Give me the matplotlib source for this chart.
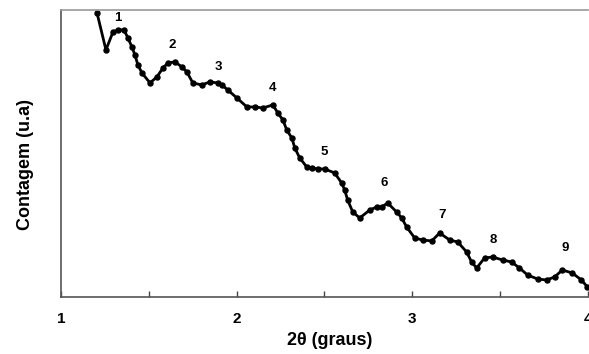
import numpy as np
import matplotlib.pyplot as plt
from matplotlib.ticker import MultipleLocator

# 2theta positions (graus) and counts (arbitrary units)
two_theta = [1.205, 1.256, 1.296, 1.324, 1.359, 1.381, 1.404, 1.421, 1.438, 1.461,
             1.507, 1.546, 1.581, 1.609, 1.649, 1.689, 1.717, 1.751, 1.802, 1.848,
             1.894, 1.916, 1.950, 2.002, 2.059, 2.104, 2.150, 2.207, 2.235, 2.264,
             2.286, 2.315, 2.332, 2.360, 2.400, 2.429, 2.463, 2.503, 2.559, 2.599,
             2.616, 2.633, 2.662, 2.702, 2.759, 2.799, 2.827, 2.861, 2.912, 2.941,
             2.969, 3.015, 3.060, 3.112, 3.157, 3.214, 3.260, 3.311, 3.339, 3.368,
             3.413, 3.459, 3.516, 3.567, 3.612, 3.658, 3.715, 3.766, 3.812, 3.856,
             3.913, 3.965, 3.999]
counts = [284, 247, 265, 267, 267, 259, 250, 242, 232, 224,
          214, 220, 229, 234, 235, 230, 225, 214, 212, 215,
          214, 212, 207, 199, 190, 190, 189, 192, 184, 177,
          167, 159, 149, 139, 130, 129, 128, 128, 124, 114,
          107, 97, 85, 79, 87, 90, 90, 94, 85, 79,
          70, 59, 57, 56, 64, 57, 55, 45, 35, 29,
          39, 40, 37, 35, 29, 22, 18, 17, 20, 27,
          24, 17, 10]

# peak labels
peak_names = ['1', '2', '3', '4', '5', '6', '7', '8', '9']
peak_x = [1.324, 1.632, 1.894, 2.207, 2.497, 2.844, 3.174, 3.464, 3.874]
peak_y = [279, 252, 230, 209, 145, 114, 82, 57, 49]

fig = plt.figure(figsize=(5.89, 3.54), dpi=100)
ax = fig.add_axes([0.1036, 0.161, 0.894, 0.811])

ax.plot(two_theta, counts, color='black', linewidth=2.0,
        marker='o', markersize=3.6, clip_on=False)

for name, px, py in zip(peak_names, peak_x, peak_y):
    ax.text(px, py, name, fontsize=9.5, fontweight='bold',
            ha='center', va='center', family='Liberation Sans')

ax.set_xlim(1, 4)
ax.set_ylim(0, 287)
ax.set_yticks([])
ax.xaxis.set_major_locator(MultipleLocator(1))
ax.xaxis.set_minor_locator(MultipleLocator(0.5))
ax.tick_params(axis='x', which='both', direction='in', length=4, width=1, color='#444444')
ax.tick_params(axis='x', which='major', pad=11)
for lab in ax.get_xticklabels():
    lab.set_fontweight('bold')
    lab.set_fontsize(11)
    lab.set_family('Liberation Sans')

ax.spines['right'].set_visible(False)
ax.spines['top'].set_color('#999999')
ax.spines['left'].set_color('#555555')
ax.spines['bottom'].set_color('#555555')
for s in ax.spines.values():
    s.set_linewidth(1.2)

ax.set_xlabel('2\u03b8 (graus)', fontsize=13, fontweight='bold',
              family='Liberation Sans')
ax.xaxis.set_label_coords(0.51, -0.15)
ax.xaxis.label.set_va('center')
ax.set_ylabel('Contagem (u.a)', fontsize=13, fontweight='bold',
              family='Liberation Sans')
ax.yaxis.set_label_coords(-0.068, 0.46)
ax.yaxis.label.set_va('center')

fig.savefig('out.png', dpi=100)
